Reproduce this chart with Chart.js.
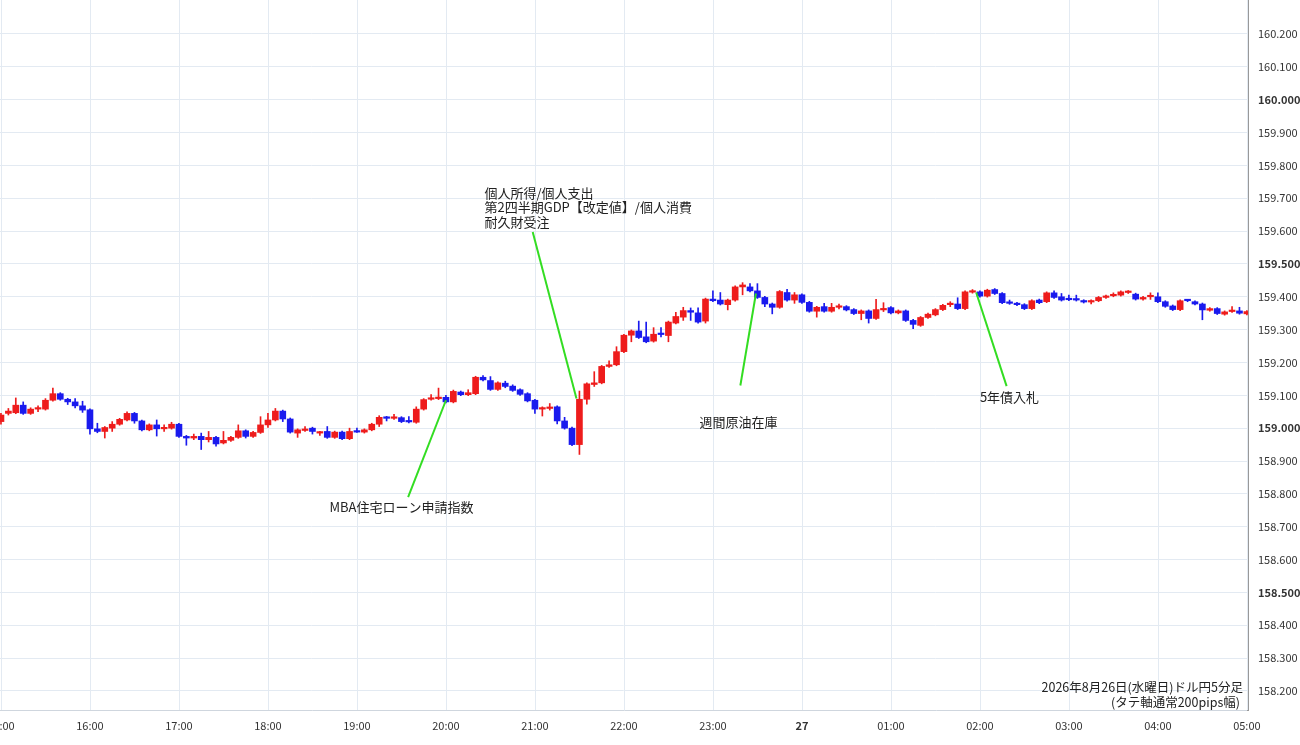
<!DOCTYPE html>
<html><head><meta charset="utf-8">
<script src="https://cdn.jsdelivr.net/npm/chart.js@4.4.1/dist/chart.umd.min.js"></script>
<style>html,body{margin:0;padding:0;background:#fff}#wrap{width:1300px;height:745px}</style>
</head><body><div id="wrap"><canvas id="c" width="1300" height="745"></canvas></div>
<script>
const opens=[159.02,159.045,159.047,159.07,159.045,159.058,159.058,159.085,159.105,159.088,159.08,159.068,159.056,158.998,158.99,159.0,159.012,159.025,159.045,159.022,158.995,159.01,158.998,159.0,159.012,158.975,158.97,158.975,158.965,158.972,158.955,158.963,158.972,158.992,158.975,158.987,159.01,159.025,159.052,159.028,158.985,158.993,159.0,158.985,158.99,158.972,158.988,158.968,158.99,158.988,158.995,159.012,159.033,159.03,159.032,159.02,159.018,159.058,159.088,159.09,159.094,159.08,159.11,159.102,159.105,159.155,159.145,159.118,159.137,159.128,159.117,159.105,159.085,159.058,159.06,159.065,159.022,159.0,158.95,159.088,159.133,159.138,159.188,159.193,159.233,159.283,159.296,159.278,159.265,159.288,159.282,159.32,159.338,159.358,159.351,159.326,159.393,159.39,159.376,159.39,159.43,159.43,159.418,159.398,159.378,159.368,159.413,159.39,159.406,159.383,159.356,159.37,159.356,159.368,159.37,159.361,159.349,159.357,159.334,159.36,159.367,159.351,159.357,159.328,159.313,159.337,159.345,159.361,159.376,159.378,159.364,159.414,159.415,159.402,159.422,159.41,159.381,159.378,159.376,159.364,159.39,159.385,159.412,159.4,159.393,159.392,159.388,159.384,159.388,159.398,159.403,159.405,159.413,159.408,159.393,159.4,159.4,159.385,159.372,159.361,159.389,159.385,159.378,159.359,159.364,159.347,159.355,159.357,159.348];
const highs=[159.045,159.06,159.092,159.08,159.062,159.068,159.09,159.122,159.108,159.091,159.09,159.082,159.059,159.015,159.005,159.02,159.03,159.05,159.048,159.025,159.013,159.025,159.01,159.018,159.015,158.978,158.982,158.985,158.99,158.975,158.99,158.975,159.01,158.995,158.99,159.035,159.045,159.06,159.055,159.031,158.998,159.005,159.003,158.99,159.005,158.991,158.991,159.0,159.0,158.998,159.015,159.038,159.036,159.042,159.035,159.035,159.065,159.09,159.102,159.122,159.1,159.116,159.113,159.117,159.158,159.16,159.157,159.141,159.143,159.132,159.12,159.108,159.088,159.065,159.075,159.068,159.033,159.003,159.113,159.138,159.172,159.191,159.205,159.248,159.286,159.299,159.326,159.323,159.306,159.306,159.326,159.353,159.368,159.366,159.366,159.396,159.418,159.413,159.393,159.433,159.443,159.44,159.44,159.401,159.381,159.419,159.423,159.413,159.409,159.386,159.371,159.38,159.38,159.378,159.373,159.364,159.36,159.36,159.392,159.382,159.37,159.36,159.36,159.331,159.34,159.35,159.364,159.377,159.385,159.397,159.418,159.422,159.418,159.423,159.425,159.413,159.39,159.383,159.379,159.391,159.393,159.415,159.418,159.41,159.405,159.405,159.391,159.391,159.401,159.405,159.412,159.418,159.419,159.411,159.401,159.412,159.412,159.388,159.375,159.391,159.392,159.388,159.381,159.367,159.367,159.357,159.37,159.368,159.358];
const lows=[159.012,159.04,159.044,159.042,159.042,159.05,159.055,159.082,159.085,159.072,159.062,159.048,158.982,158.986,158.97,158.99,159.009,159.022,159.015,158.992,158.992,158.976,158.99,158.997,158.972,158.948,158.965,158.935,158.958,158.945,158.952,158.96,158.969,158.97,158.972,158.984,159.002,159.022,159.02,158.985,158.972,158.99,158.982,158.978,158.969,158.969,158.965,158.965,158.987,158.985,158.992,159.005,159.022,159.027,159.017,159.016,159.015,159.055,159.085,159.087,159.077,159.077,159.099,159.099,159.102,159.144,159.115,159.115,159.123,159.112,159.1,159.08,159.045,159.037,159.055,159.013,158.997,158.947,158.92,159.073,159.127,159.135,159.185,159.19,159.23,159.263,159.273,159.26,159.262,159.278,159.263,159.317,159.328,159.328,159.32,159.32,159.385,159.375,159.36,159.387,159.406,159.415,159.395,159.37,159.348,159.365,159.387,159.38,159.38,159.353,159.338,159.353,159.353,159.363,159.357,159.346,159.33,159.32,159.331,159.355,159.348,159.348,159.325,159.303,159.31,159.334,159.342,159.358,159.37,159.361,159.361,159.411,159.399,159.399,159.407,159.379,159.377,159.373,159.361,159.361,159.379,159.382,159.395,159.387,159.388,159.387,159.381,159.378,159.385,159.395,159.4,159.402,159.41,159.39,159.39,159.392,159.382,159.368,159.358,159.358,159.385,159.375,159.33,159.356,159.346,159.344,159.352,159.347,159.345];
const closes=[159.04,159.052,159.07,159.045,159.058,159.06,159.085,159.105,159.088,159.08,159.068,159.055,158.998,158.99,159.002,159.012,159.027,159.045,159.022,158.995,159.01,158.998,159.0,159.012,158.975,158.97,158.975,158.965,158.972,158.952,158.963,158.972,158.992,158.975,158.987,159.01,159.025,159.052,159.028,158.988,158.995,158.997,158.99,158.987,158.972,158.988,158.968,158.99,158.988,158.995,159.012,159.033,159.03,159.032,159.02,159.019,159.058,159.087,159.09,159.094,159.08,159.112,159.102,159.108,159.155,159.147,159.118,159.138,159.127,159.115,159.103,159.083,159.058,159.06,159.063,159.022,159.0,158.95,159.088,159.135,159.138,159.188,159.193,159.233,159.283,159.296,159.276,159.263,159.286,159.285,159.323,159.34,159.358,159.353,159.323,159.393,159.388,159.378,159.39,159.43,159.436,159.418,159.398,159.378,159.368,159.416,159.39,159.406,159.383,159.356,159.368,159.356,159.368,159.37,159.36,159.349,159.357,159.334,159.361,159.362,159.351,159.357,159.328,159.316,159.337,159.347,159.361,159.374,159.378,159.364,159.415,159.416,159.402,159.42,159.41,159.382,159.38,159.376,159.364,159.388,159.382,159.412,159.398,159.39,159.391,159.39,159.384,159.388,159.398,159.402,159.405,159.415,159.416,159.393,159.398,159.402,159.385,159.371,159.361,159.388,159.388,159.378,159.36,159.364,159.349,159.354,159.357,159.35,159.355];
const yTicks=[158.2,158.3,158.4,158.5,158.6,158.7,158.8,158.9,159.0,159.1,159.2,159.3,159.4,159.5,159.6,159.7,159.8,159.9,160.0,160.1,160.2];
const boldTicks=[158.5,159.0,159.5,160.0];
const xTickIdx=[0,12,24,36,48,60,72,84,96,108,120,132,144,156,168];
const xTickLabels=['15:00','16:00','17:00','18:00','19:00','20:00','21:00','22:00','23:00','27','01:00','02:00','03:00','04:00','05:00'];
const notes=[
 {lines:['MBA住宅ローン申請指数'],tx:44.3,ty:158.76,from:[54.9,158.79],to:[60,159.085]},
 {lines:['個人所得/個人支出','第2四半期GDP【改定値】/個人消費','耐久財受注'],tx:65.2,ty:159.716,from:[71.7,159.597],to:[77.6,159.09]},
 {lines:['週間原油在庫'],tx:94.2,ty:159.019,from:[99.7,159.13],to:[101.8,159.41]},
 {lines:['5年債入札'],tx:132,ty:159.095,from:[135.6,159.128],to:[131.5,159.413]}
];
const titleLines=['2026年8月26日(水曜日)ドル円5分足','(タテ軸通常200pips幅)'];

const RED='#ee1c1c',BLUE='#1a1aee';
const cols=opens.map((o,i)=>closes[i]>=o?RED:BLUE);
const FONT='"Noto Sans CJK JP","Noto Sans",sans-serif';

const vgrid={id:'vgrid',beforeDatasetsDraw(ch){
  const ctx=ch.ctx,xs=ch.scales.x,a=ch.chartArea;
  ctx.save();ctx.strokeStyle='#e3eaf2';ctx.lineWidth=1;
  xTickIdx.forEach(v=>{const x=Math.round(xs.getPixelForValue(v))+0.5;ctx.beginPath();ctx.moveTo(x,a.top);ctx.lineTo(x,a.bottom);ctx.stroke();});
  ctx.restore();
}};
const overlay={id:'overlay',afterDraw(ch){
  const ctx=ch.ctx,xs=ch.scales.x,ys=ch.scales.y,a=ch.chartArea;
  ctx.save();
  ctx.fillStyle='#333';ctx.textAlign='center';ctx.textBaseline='middle';
  xTickIdx.forEach((v,i)=>{ctx.font=(xTickLabels[i]==='27'?'bold ':'')+'11px '+FONT;ctx.fillText(xTickLabels[i],xs.getPixelForValue(v),726);});
  ctx.textAlign='left';
  yTicks.forEach(v=>{ctx.font=(boldTicks.some(b=>Math.abs(b-v)<1e-6)?'bold ':'')+'11px '+FONT;ctx.fillText(v.toFixed(3),1258,ys.getPixelForValue(v));});
  ctx.strokeStyle='#33dd22';ctx.lineWidth=2;
  notes.forEach(n=>{ctx.beginPath();ctx.moveTo(xs.getPixelForValue(n.from[0]),ys.getPixelForValue(n.from[1]));ctx.lineTo(xs.getPixelForValue(n.to[0]),ys.getPixelForValue(n.to[1]));ctx.stroke();});
  ctx.fillStyle='#222';ctx.font='13px '+FONT;ctx.textAlign='left';ctx.textBaseline='middle';
  notes.forEach(n=>{const x=xs.getPixelForValue(n.tx),y=ys.getPixelForValue(n.ty);n.lines.forEach((t,k)=>ctx.fillText(t,x,y+k*14.5));});
  ctx.textAlign='right';ctx.font='12.5px '+FONT;
  ctx.fillText(titleLines[0],a.right-5,687);ctx.fillText(titleLines[1],a.right-8,702);
  ctx.restore();
}};

new Chart(document.getElementById('c'),{
  type:'bar',
  data:{datasets:[
    {label:'wick',data:opens.map((o,i)=>({x:i,y:[lows[i],highs[i]]})),backgroundColor:cols,barThickness:1,grouped:false,order:2},
    {label:'body',data:opens.map((o,i)=>({x:i,y:[o,closes[i]]})),backgroundColor:cols,barThickness:6,minBarLength:1.5,grouped:false,order:1}
  ]},
  options:{responsive:false,animation:false,devicePixelRatio:1,
    layout:{padding:0},
    plugins:{legend:{display:false},tooltip:{enabled:false}},
    scales:{
      x:{type:'linear',offset:false,min:-0.13,max:168.15,
        ticks:{display:false},
        afterFit:s=>{s.height=35;},
        grid:{display:false,drawTicks:false},border:{color:'#cfd6de'}},
      y:{position:'right',min:158.142,max:160.3035,
        afterBuildTicks:s=>{s.ticks=yTicks.map(v=>({value:v}));},
        afterFit:s=>{s.width=52;},
        ticks:{display:false},
        grid:{color:'#e3eaf2',drawTicks:false},border:{color:'#999',width:2}}
    }},
  plugins:[vgrid,overlay]
});
</script></body></html>
